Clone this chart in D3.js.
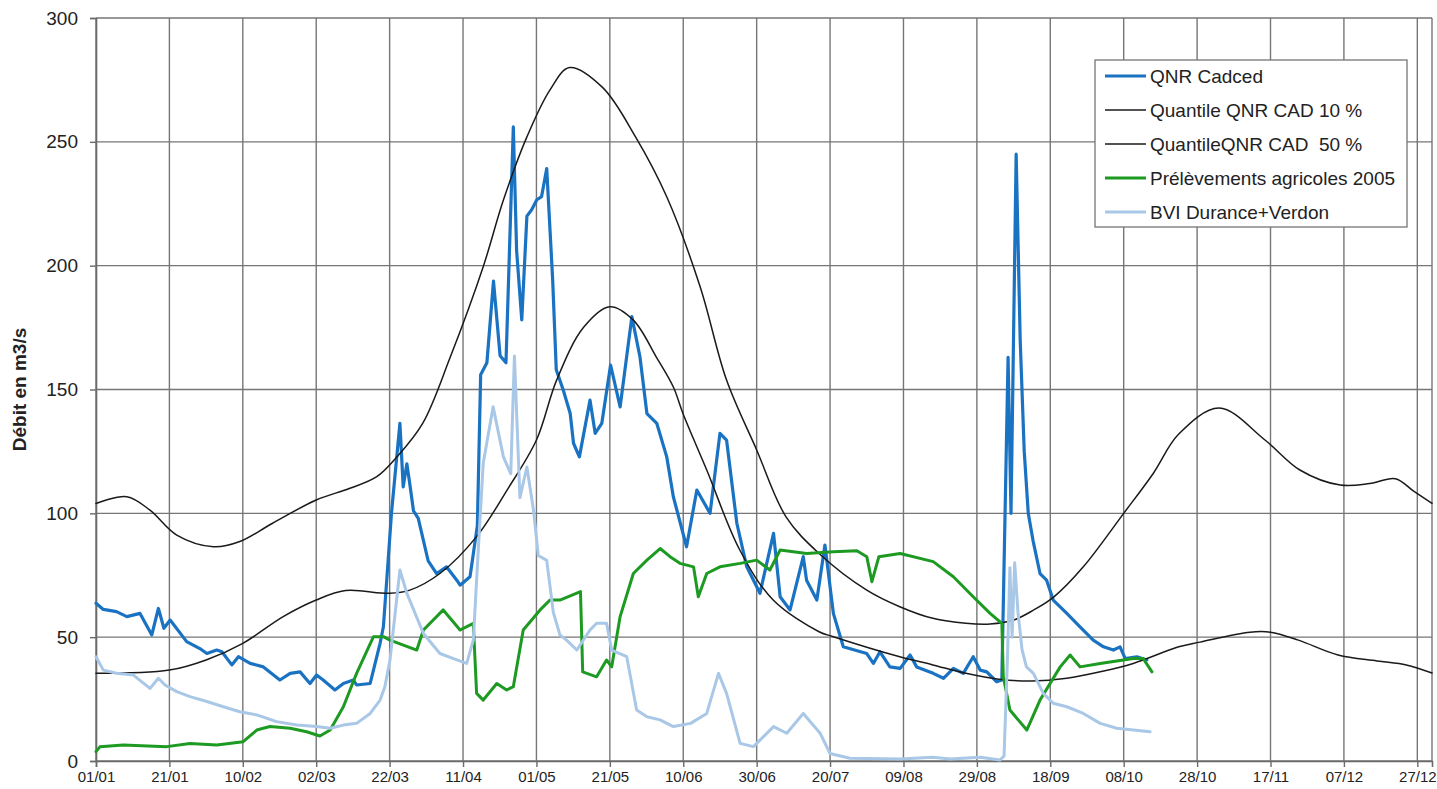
<!DOCTYPE html>
<html><head><meta charset="utf-8">
<script src="https://cdn.jsdelivr.net/npm/d3@7"></script>
<style>body{margin:0;background:#fff} svg{display:block}</style>
</head><body><svg id="c" width="1437" height="789"></svg>
<script>
// ---- data ----
const tickLabels = ["01/01","21/01","10/02","02/03","22/03","11/04","01/05","21/05","10/06","30/06","20/07","09/08","29/08","18/09","08/10","28/10","17/11","07/12","27/12"];
const tickDays = [0,20,40,60,80,100,120,140,160,180,200,220,240,260,280,300,320,340,360];
const yTicks = [0,50,100,150,200,250,300];
const seriesNames = ["QNR Cadced","Quantile QNR CAD 10 %","QuantileQNR CAD  50 %","Prélèvements agricoles 2005","BVI Durance+Verdon"];

// QNR Cadced (day of year index, m3/s)
const qnrDays = [0,2,5.6,8.4,12,15.2,17,18.5,20.2,24.7,28.3,30.2,32.9,34.3,37,38.8,42,45.6,50.1,52.9,55.6,58.3,60.1,61.9,65.1,67.4,70.1,71,74.7,77.4,78.3,79.6,80.5,82.8,83.7,84.7,85.6,86.5,87.8,90.5,92.8,95.5,98.3,99.2,101.9,103.9,104.8,106.5,108.3,110.1,111.7,113.7,114.6,116,117.4,118.7,120.1,121.4,122.8,124.4,125.4,127.3,129.2,130.1,131.7,134.6,136,137.8,140.2,142.8,146,148.2,150.1,152.8,155.5,157.3,160.9,163.7,167.3,170,171.8,174.6,177.3,180.9,184.6,186.4,189.1,192.7,193.6,196.4,198.6,200.9,203.6,210,211.8,213.6,216.3,219.1,221.8,223.6,228.1,230.9,233.6,236.3,239,240.9,242.7,245.4,246.8,248.5,249.3,250.7,251.8,252.9,254,255.3,257.2,259,260.8,264.5,268.1,271.7,274.5,277.2,279,280.4,283.6,286.3];
const qnrVals = [63.7,61.2,60.3,58.3,59.6,50.9,61.6,53.6,56.9,48.2,45.4,43.4,44.8,44.1,38.8,42.1,39.4,38,32.7,35.4,36,31.3,34.7,32.7,28.7,31.3,32.7,30.7,31.3,47.5,54.2,81,100,136.3,110.7,120,110.7,101,98,80.8,75.7,78.4,73,71,74.4,95,156,160.8,193.8,163.6,160.8,256,206,178.1,220,222.6,226.6,227.9,239.2,195,158,149.8,140.3,128.3,122.8,145.7,132.3,136.3,159.9,143,179.4,163.2,140.3,136.3,122.8,106.7,86.5,109.4,100,132.3,129.6,96,78.4,67.7,91.9,66.3,61,82.5,73,65,87.2,59.6,46.1,43.4,39.4,44.1,38,37.4,42.8,38,35.4,33.4,37.4,35.4,42.1,36.7,36,32,32.7,163,100,245,170,125,100,89,75.7,73,65,59.6,54.2,48.8,46.1,44.8,46.1,41.4,42.1,40.8];

// Quantile 10 %
const q10Days = [0,8.4,14.7,22,32,39,48,60,69,76.5,82,89,96.5,105.5,111,117.4,123.7,129,138,147,155.5,164.6,171.8,180,188,197,210,219,228,237,243.6,250,255.5,261,269,280,288,295,306,318.5,328,339,347,354,359,364];
const q10Vals = [104,106.7,101.3,91.2,86.5,88.5,95.9,105.4,110,114.8,122.8,136.3,163,199.6,226.5,252,271,280,272,252,227.8,191.5,153.8,125.6,98.6,83.8,69,62.3,57.6,55.6,55.3,56.9,61,66.3,78.4,100,116,132,142.5,129.6,117.5,111.4,112,114,109,104];

// Quantile 50 %
const q50Days = [0,20,30,40,51,60,68,80,85.5,93.7,103.7,112,120,125.5,132.8,140,146.4,152.7,157.3,160,166.4,175.4,184.5,197,200.9,219,228,237,246,255,264.5,273.6,282.6,295,300.8,314.4,320,327.6,338.4,349,357,364];
const q50Vals = [35.4,36.7,40.8,47.5,58.3,65,68.8,67.7,69,75.7,90.6,109.4,129.6,153.8,175,183.4,178,163,151,140,117.5,85.2,65,52.2,50.2,42.1,38.8,35.4,33,32.3,33.4,36,39.4,46.1,48,52,52,48.8,42.8,40.4,38.8,35.5];

// Prélèvements agricoles 2005
const agriDays = [0,1.1,7.4,19.3,25.6,32.9,40.1,43.8,47.4,52.9,57.4,61,63.8,67.4,71,75.6,78.3,80.1,87.4,89.2,94.6,99.2,102.8,103.7,105.5,109.2,111.9,113.7,116.4,121,123.7,126.4,132,132.6,136.4,139.1,140.5,142.8,146.4,150.1,153.7,156.4,159.1,162.8,164.1,166.4,170,175.5,180,183.6,186.4,193.6,200.9,207.3,210,211.4,213.3,219.1,228.1,233.6,239,243.6,246.8,247.2,249,253.6,257.2,262.7,265.4,268.1,273.6,282.6,285.3,287.7];
const agriVals = [3.8,5.8,6.5,5.8,7.1,6.5,7.8,12.5,13.9,13.2,11.8,10.1,12.5,21.9,35.4,50.2,50.2,48.8,44.8,52.9,61,52.9,55.6,27.3,24.6,31.3,28.7,30,52.9,61,65,65,68.4,36,34,40.8,38,58.3,75.7,81.1,85.8,82.5,79.8,78.4,66.3,75.7,78.4,79.8,81.1,77.1,85.2,83.8,84.5,84.9,82.5,72.4,82.5,83.8,80.5,74.4,66.3,59.6,55.6,34,20.6,12.5,24.6,38,42.8,38,39.4,41.4,41.4,36];

// BVI Durance+Verdon
const bviDays = [0,2,5.6,10.2,14.7,17,18.8,22,25.6,30.2,34.7,39.2,43.8,49.2,54.7,60.1,63.8,67.4,71,74.7,77.4,78.7,80.1,82.8,84.7,89.2,93.7,98.3,101,102.8,104.2,105.5,108.2,111,113,114,115.5,117.4,119.2,120.5,122.8,124.6,126.4,128.2,131,134.6,136.4,139.1,140.5,144.6,147.3,150.1,153.7,157.3,162,166.4,169.6,171.8,175.5,179.1,184.6,188.2,192.7,197.3,200,205.4,219.1,228,232.7,240.9,246.3,247.4,248.3,249,249.6,250.3,251.2,252.3,253.5,255.4,258.1,260.8,264.5,269,273.6,278.1,282.6,287.2];
const bviVals = [42.1,36.7,35.4,34.7,29.3,33.4,30.7,28,26,24,21.9,19.9,18.6,15.9,14.5,13.9,13.2,14.5,15.2,19.2,24.6,30,40.8,77.1,67.7,51.5,43.4,40.8,39.4,48.8,86.5,120.2,143,122.8,116,163.5,106.3,118.7,101.3,83,81,60,50.9,48.8,44.8,52.9,55.6,55.6,44.8,42.1,20.6,17.9,16.6,13.9,15.2,19.2,35.4,27.3,7.1,5.8,13.9,11.2,19.2,11.2,3,1.1,0.8,1.5,0.8,1.5,0.4,2,40,78,50,80,60,45,38,35.4,27.3,23.3,21.9,19.2,15.2,13.2,12.5,11.8];

// ---- chart ----
const W = 1437, H = 789;
const m = {l: 96, r: 5, t: 18, b: 28};
const svg = d3.select("#c");
const x = d3.scaleLinear().domain([0, 364]).range([m.l, W - m.r]);
const y = d3.scaleLinear().domain([0, 300]).range([H - m.b, m.t]);
const gridCol = "#767676";

// grid
svg.append("g").selectAll("line").data(yTicks).join("line")
  .attr("x1", x(0)).attr("x2", x(364)).attr("y1", d => y(d)).attr("y2", d => y(d))
  .attr("stroke", gridCol).attr("stroke-width", 1.4);
svg.append("g").selectAll("line").data(tickDays.concat([364])).join("line")
  .attr("x1", d => x(d)).attr("x2", d => x(d)).attr("y1", y(0)).attr("y2", y(300))
  .attr("stroke", gridCol).attr("stroke-width", 1.4);

// axes
const yAxis = svg.append("g").attr("transform", `translate(${x(0)},0)`)
  .call(d3.axisLeft(y).tickValues(yTicks).tickSize(6).tickPadding(12));
yAxis.selectAll("text").attr("font-family", "'Liberation Sans', Arial, sans-serif").attr("font-size", 19).attr("fill", "#222");
const xAxis = svg.append("g").attr("transform", `translate(0,${y(0)})`)
  .call(d3.axisBottom(x).tickValues(tickDays).tickFormat((d, i) => tickLabels[i]).tickSize(6).tickPadding(4));
xAxis.selectAll("text").attr("font-family", "'Liberation Sans Narrow', 'Liberation Sans', Arial, sans-serif").attr("font-size", 15).attr("fill", "#222");
svg.selectAll(".domain").attr("stroke", "#6a6a6a").attr("stroke-width", 1.6);
svg.selectAll(".tick line").attr("stroke", "#6a6a6a").attr("stroke-width", 1.4);

svg.append("text")
  .attr("transform", `translate(26,${(y(0) + y(300)) / 2}) rotate(-90)`)
  .attr("text-anchor", "middle")
  .attr("font-family", "'Liberation Sans Narrow', 'Liberation Sans', Arial, sans-serif")
  .attr("font-weight", "bold").attr("font-size", 19).attr("fill", "#222")
  .text("Débit en m3/s");

// series
const zip = (a, b) => a.map((d, i) => [d, b[i]]);
const lin = d3.line().x(d => x(d[0])).y(d => y(d[1]));
const smooth = d3.line().x(d => x(d[0])).y(d => y(d[1])).curve(d3.curveCatmullRom.alpha(0.5));
const series = [
  {data: zip(qnrDays, qnrVals), col: "#1a73c2", w: 3.2, gen: lin},
  {data: zip(q10Days, q10Vals), col: "#1a1a1a", w: 1.5, gen: smooth},
  {data: zip(q50Days, q50Vals), col: "#1a1a1a", w: 1.5, gen: smooth},
  {data: zip(agriDays, agriVals), col: "#1d9a21", w: 3, gen: lin},
  {data: zip(bviDays, bviVals), col: "#a9c7e6", w: 3, gen: lin}
];
series.forEach(s => {
  svg.append("path").datum(s.data).attr("d", s.gen)
    .attr("fill", "none").attr("stroke", s.col).attr("stroke-width", s.w)
    .attr("stroke-linejoin", "round").attr("stroke-linecap", "round");
});

// legend
const lg = svg.append("g");
lg.append("rect").attr("x", 1095).attr("y", 60).attr("width", 312).attr("height", 167)
  .attr("fill", "#fff").attr("stroke", "#767676").attr("stroke-width", 1.3);
seriesNames.forEach((n, i) => {
  const yy = 76 + i * 34;
  lg.append("line").attr("x1", 1105).attr("x2", 1146).attr("y1", yy).attr("y2", yy)
    .attr("stroke", series[i].col).attr("stroke-width", series[i].w);
  lg.append("text").attr("x", 1150).attr("y", yy).attr("dy", "0.35em")
    .attr("font-family", "'Liberation Sans', Arial, sans-serif").attr("font-size", 19).attr("fill", "#222")
    .style("white-space", "pre").text(n);
});
</script>
</body></html>
